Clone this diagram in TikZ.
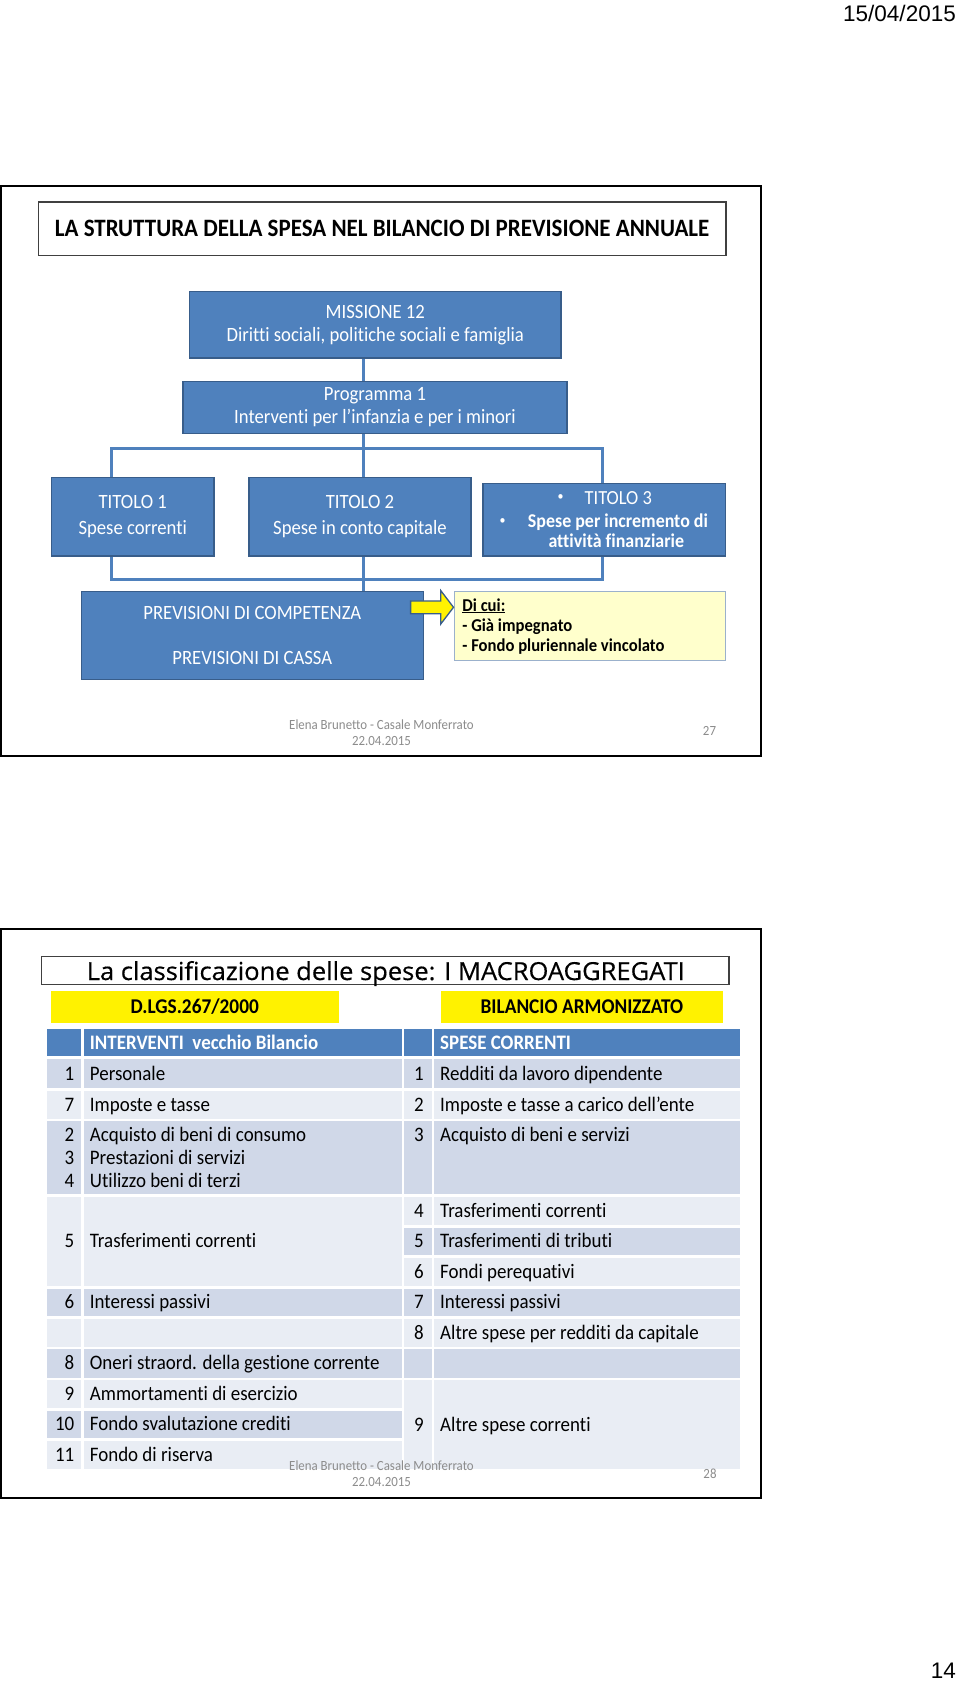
\documentclass[tikz,border=0pt]{standalone}
\usepackage{fontspec}
\usepackage{graphicx}
\setmainfont{Carlito}[FakeStretch=0.92, RawFeature={-liga}]
\newfontfamily\arialfont{Liberation Sans}
\newfontfamily\comicfont{Open Sans}[FakeBold=0.4]
\usetikzlibrary{calc}
\definecolor{acc}{HTML}{4F81BD}
\definecolor{accdark}{HTML}{385D8A}
\definecolor{rowdark}{HTML}{D0D8E8}
\definecolor{rowlight}{HTML}{E9EDF4}
\definecolor{lightyel}{HTML}{FFFFCC}
\definecolor{footgray}{HTML}{8C8C8C}
\definecolor{yeledge}{HTML}{9BB1CC}
\newcommand\fsz[2]{\fontsize{#1}{#2}\selectfont}
\newcommand\lrow[4]{\node[tnum] (#1n) at (74.5,#2) {#3};\node[ttxt] (#1t) at (89.7,#2) {#4};}
\newcommand\rrow[4]{\node[tnum] (#1n) at (424,#2) {#3};\node[ttxt] (#1t) at (440,#2) {#4};}
\begin{document}
\begin{tikzpicture}[x=1pt,y=-1pt,
  bluebox/.style={draw=accdark, line width=1.5pt, fill=acc, text=white, inner sep=0pt, align=center, font=\fsz{20.3}{23}},
  conn/.style={draw=acc, line width=3pt},
  frame/.style={draw=black, line width=2.2pt},
  titlebox/.style={draw=black!75, line width=1.2pt, fill=white, inner sep=0pt},
  foot/.style={text=footgray, inner sep=0pt, align=center, font=\fsz{14}{15.5}},
  yelhead/.style={fill=yellow, inner sep=0pt, font=\bfseries\fsz{21}{24}},
  ttxt/.style={anchor=west, inner sep=0pt, text height=13pt, text depth=0pt, font=\fsz{20.6}{23}},
  tnum/.style={anchor=east, inner sep=0pt, text height=13pt, text depth=0pt, font=\fsz{20.6}{23}},
  htxt/.style={anchor=west, inner sep=0pt, text height=13pt, text depth=0pt, text=white, font=\bfseries\fsz{20.6}{23}},
  plain/.style={inner sep=0pt, text=white, font=\fsz{20}{23}},
  bul/.style={inner sep=0pt, text=white, font=\fsz{13}{15}},
]
\useasboundingbox (0,0) rectangle (960,1684);
\fill[white] (0,0) rectangle (960,1684);

% page header and number
\node[anchor=east, inner sep=0pt, font=\arialfont\fsz{22.5}{25}] (date) at (956,13.5) {15/04/2015};
\node[anchor=east, inner sep=0pt, font=\arialfont\fsz{22.5}{25}] (pageno) at (956,1671) {14};

% ================= SLIDE 1 =================
\draw[frame] (1.1,186) rectangle (761,756);
\node[titlebox, minimum width=687.8pt, minimum height=53.6pt, font=\bfseries\fsz{25}{28}] (title1) at (382.1,228.8)
  {LA STRUTTURA DELLA SPESA NEL BILANCIO DI PREVISIONE ANNUALE};

\node[bluebox, minimum width=371.4pt, minimum height=66.4pt] (miss) at (375.3,324.8)
  {MISSIONE 12\\Diritti sociali, politiche sociali e famiglia};
\node[bluebox, minimum width=384pt, minimum height=52pt] (prog) at (375,407.5)
  {Programma 1\\Interventi per l’infanzia e per i minori};
\node[bluebox, minimum width=162.6pt, minimum height=78.5pt] (t1) at (132.7,516.75)
  {TITOLO 1\\[2.5pt]Spese correnti};
\node[bluebox, minimum width=222pt, minimum height=78.5pt] (t2) at (360,516.75)
  {TITOLO 2\\[2.5pt]Spese in conto capitale};
\node[bluebox, minimum width=242.6pt, minimum height=72.4pt] (t3) at (604.2,519.8) {};
\node[bul] (t3b1) at (560.7,497.7) {\textbullet};
\node[plain] (t3l1) at (618.3,497.7) {TITOLO 3};
\node[bul] (t3b2) at (502.7,521.7) {\textbullet};
\node[plain, font=\bfseries\fsz{19.5}{23}] (t3l2) at (618,521.7) {Spese per incremento di};
\node[plain, font=\bfseries\fsz{19.5}{23}] (t3l3) at (616.3,540.7) {attività finanziarie};
\node[bluebox, minimum width=342pt, minimum height=88pt] (prev) at (252.3,635.5)
  {PREVISIONI DI COMPETENZA\\[22pt]PREVISIONI DI CASSA};
\node[draw=yeledge, line width=1pt, fill=lightyel, inner sep=0pt, minimum width=271pt, minimum height=68.5pt] (dicui) at (589.5,626) {};
\node[anchor=west, inner sep=0pt, align=left, font=\bfseries\fsz{18.1}{20.2}] (dicuitxt) at (462.2,626.4)
  {\underline{Di cui:}\\- Già impegnato\\- Fondo pluriennale vincolato};

% connectors
\coordinate (busmid) at (363,448);
\coordinate (busl) at (111.7,448);
\coordinate (busr) at (602.6,448);
\coordinate (botmid) at (363,579);
\coordinate (botl) at (111.7,579);
\coordinate (botr) at (602.6,579);
\draw[conn] (miss.south -| busmid) -- (prog.north -| busmid);
\draw[conn] (prog.south -| busmid) -- (t2.north -| busmid);
\draw[conn] (t1.north -| busl) -- (busl) -- (busr) -- (t3.north -| busr);
\draw[conn] (t1.south -| botl) -- (botl) -- (botr) -- (t3.south -| botr);
\draw[conn] (t2.south -| botmid) -- (prev.north -| botmid);

% yellow arrow
\coordinate (tip) at (dicui.west |- 0,607.3);
\draw[fill=yellow, draw=accdark, line width=1.3pt, line join=miter]
  (410.6,600.9) -- (440.7,600.9) -- (440.7,590.5) -- (tip) -- (440.7,624.1) -- (440.7,613.7) -- (410.6,613.7) -- cycle;

% footer 1
\node[foot] (foot1) at (381.5,732.5) {Elena Brunetto - Casale Monferrato\\22.04.2015};
\node[foot] (num27) at (709.5,731) {27};

% ================= SLIDE 2 =================
\draw[frame] (1.1,929) rectangle (761,1498);
\node[titlebox, minimum width=687.4pt, minimum height=28.5pt] (title2) at (385.3,970.5) {};
\node[anchor=base, inner sep=0pt] (title2txt) at (385.8,980)
  {\resizebox{598pt}{19pt}{\comicfont\fsz{25}{28}La classificazione delle spese: I MACROAGGREGATI}};
\node[yelhead, minimum width=288.5pt, minimum height=31.8pt] (dlgs) at (194.75,1006.9) {D.LGS.267/2000};
\node[yelhead, minimum width=281.7pt, minimum height=31.8pt] (armon) at (581.85,1006.9) {BILANCIO ARMONIZZATO};

% table cells
% header
\fill[acc] (46.5,1028.5) rectangle (81.3,1056.4);
\fill[acc] (83.5,1028.5) rectangle (401.8,1056.4);
\fill[acc] (403.9,1028.5) rectangle (432,1056.4);
\fill[acc] (434.2,1028.5) rectangle (740,1056.4);
% left column cells
\foreach \ya/\yb/\c in {1059/1088/rowdark, 1090.5/1118.5/rowlight, 1121/1194/rowdark, 1196.5/1286/rowlight,
  1288.5/1316.3/rowdark, 1318.8/1347/rowlight, 1349.3/1377.5/rowdark, 1380/1408.2/rowlight,
  1410.5/1438.4/rowdark, 1441/1469/rowlight}{
  \fill[\c] (46.5,\ya) rectangle (81.3,\yb);
  \fill[\c] (83.5,\ya) rectangle (401.8,\yb);
}
% right column cells
\foreach \ya/\yb/\c in {1059/1088/rowdark, 1090.5/1118.5/rowlight, 1121/1194/rowdark, 1196.5/1225/rowlight,
  1227.5/1255.3/rowdark, 1257.8/1286/rowlight, 1288.5/1316.3/rowdark, 1318.8/1347/rowlight,
  1349.3/1377.5/rowdark, 1380/1469/rowlight}{
  \fill[\c] (403.9,\ya) rectangle (432,\yb);
  \fill[\c] (434.2,\ya) rectangle (740,\yb);
}

% header texts
\node[htxt] (hl) at (89.7,1042.5) {INTERVENTI\ \ vecchio Bilancio};
\node[htxt] (hr) at (440,1042.5) {SPESE CORRENTI};

% left texts
\lrow{la}{1073.8}{1}{Personale}
\lrow{lb}{1104.5}{7}{Imposte e tasse}
\lrow{lc}{1134.9}{2}{Acquisto di beni di consumo}
\lrow{ld}{1157.9}{3}{Prestazioni di servizi}
\lrow{le}{1180.9}{4}{Utilizzo beni di terzi}
\lrow{lf}{1241.2}{5}{Trasferimenti correnti}
\lrow{lg}{1302.4}{6}{Interessi passivi}
\lrow{lh}{1363.4}{8}{Oneri straord. della gestione corrente}
\lrow{li}{1394.1}{9}{Ammortamenti di esercizio}
\lrow{lj}{1424.4}{10}{Fondo svalutazione crediti}
\lrow{lk}{1455}{11}{Fondo di riserva}

% right texts
\rrow{ra}{1073.8}{1}{Redditi da lavoro dipendente}
\rrow{rb}{1104.5}{2}{Imposte e tasse a carico dell’ente}
\rrow{rc}{1134.9}{3}{Acquisto di beni e servizi}
\rrow{rd}{1210.8}{4}{Trasferimenti correnti}
\rrow{re}{1241.4}{5}{Trasferimenti di tributi}
\rrow{rf}{1271.9}{6}{Fondi perequativi}
\rrow{rg}{1302.4}{7}{Interessi passivi}
\rrow{rh}{1332.9}{8}{Altre spese per redditi da capitale}
\rrow{ri}{1424.5}{9}{Altre spese correnti}

% footer 2
\node[foot] (foot2) at (381.5,1473.8) {Elena Brunetto - Casale Monferrato\\22.04.2015};
\node[foot] (num28) at (710,1473.6) {28};
\end{tikzpicture}
\end{document}
